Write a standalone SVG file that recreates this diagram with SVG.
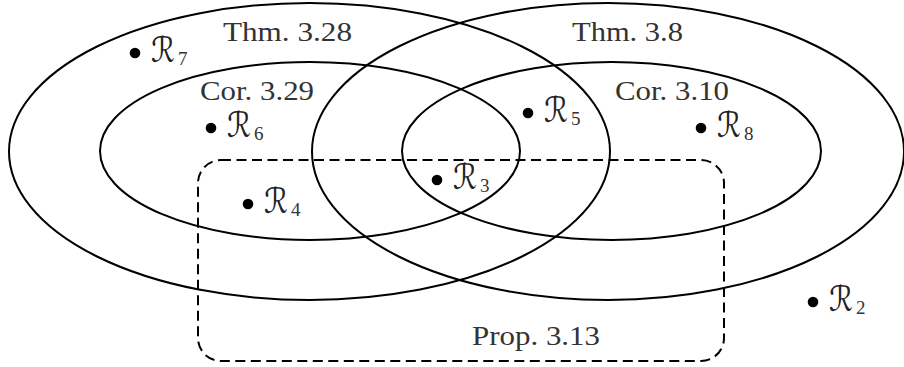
<svg xmlns="http://www.w3.org/2000/svg" width="904" height="367" viewBox="0 0 904 367">
<style>
.set{fill:none;stroke:#000;stroke-width:2}
.dash{fill:none;stroke:#000;stroke-width:2;stroke-dasharray:10 5.5}
.lbl{font-family:"Liberation Serif",serif;font-size:28px;fill:#333}
.pt{fill:#000}
.r{font-family:"DejaVu Serif","DejaVu Sans",serif;font-size:35px;fill:#222}
.sub{font-family:"Liberation Serif",serif;font-size:19px;fill:#333}
</style>
<rect width="904" height="367" fill="#fff"/>
<g id="sets">
<g id="thm328"><ellipse class="set" cx="309.5" cy="151.5" rx="300.5" ry="148.5"/><text class="lbl" x="223" y="41" textLength="129" lengthAdjust="spacingAndGlyphs">Thm. 3.28</text></g>
<g id="thm38"><ellipse class="set" cx="608" cy="151.5" rx="296" ry="148.5"/><text class="lbl" x="572" y="41" textLength="111" lengthAdjust="spacingAndGlyphs">Thm. 3.8</text></g>
<g id="cor329"><ellipse class="set" cx="310" cy="151" rx="210" ry="89"/><text class="lbl" x="200" y="100" textLength="114" lengthAdjust="spacingAndGlyphs">Cor. 3.29</text></g>
<g id="cor310"><ellipse class="set" cx="611.5" cy="151" rx="209.5" ry="89"/><text class="lbl" x="615" y="100" textLength="114" lengthAdjust="spacingAndGlyphs">Cor. 3.10</text></g>
<g id="prop313"><rect class="dash" x="198" y="160" width="526" height="201" rx="23" ry="23"/><text class="lbl" x="472" y="345" textLength="128" lengthAdjust="spacingAndGlyphs">Prop. 3.13</text></g>
</g>
<g id="points">
<g id="R7"><circle class="pt" cx="135" cy="53" r="5.3"/><text class="r" x="151" y="62" textLength="24" lengthAdjust="spacingAndGlyphs">ℛ</text><text class="sub" x="178" y="65">7</text></g>
<g id="R6"><circle class="pt" cx="211" cy="128" r="5.3"/><text class="r" x="227" y="137" textLength="24" lengthAdjust="spacingAndGlyphs">ℛ</text><text class="sub" x="254" y="140">6</text></g>
<g id="R5"><circle class="pt" cx="528" cy="113" r="5.3"/><text class="r" x="544" y="122" textLength="24" lengthAdjust="spacingAndGlyphs">ℛ</text><text class="sub" x="571" y="125">5</text></g>
<g id="R8"><circle class="pt" cx="701" cy="128" r="5.3"/><text class="r" x="717" y="137" textLength="24" lengthAdjust="spacingAndGlyphs">ℛ</text><text class="sub" x="744" y="140">8</text></g>
<g id="R3"><circle class="pt" cx="437" cy="180" r="5.3"/><text class="r" x="453" y="189" textLength="24" lengthAdjust="spacingAndGlyphs">ℛ</text><text class="sub" x="480" y="192">3</text></g>
<g id="R4"><circle class="pt" cx="248" cy="204" r="5.3"/><text class="r" x="264" y="213" textLength="24" lengthAdjust="spacingAndGlyphs">ℛ</text><text class="sub" x="291" y="216">4</text></g>
<g id="R2"><circle class="pt" cx="813" cy="302" r="5.3"/><text class="r" x="829" y="311" textLength="24" lengthAdjust="spacingAndGlyphs">ℛ</text><text class="sub" x="856" y="314">2</text></g>
</g>
<g id="connectors"/>
</svg>
